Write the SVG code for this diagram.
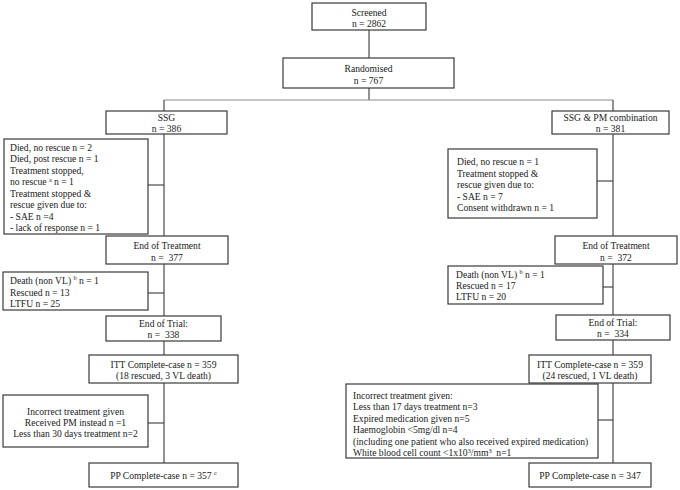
<svg xmlns="http://www.w3.org/2000/svg" width="680" height="490" viewBox="0 0 680 490">
<style>
  .box { fill: #ffffff; stroke: #3a3a3a; stroke-width: 1.2; }
  .ln { fill: none; stroke: #3a3a3a; stroke-width: 1.1; }
  .ln2 { fill: none; stroke: #8a8a8a; stroke-width: 1; }
  text { font-family: "Liberation Serif", "Times New Roman", serif; font-size: 9.6px; fill: #1a1a1a; }
  .c { text-anchor: middle; }
  .sup { font-size: 6.3px; }
</style>
<rect x="0" y="0" width="680" height="490" fill="#ffffff"/>
<g id="connectors">
  <line class="ln" x1="369" y1="30" x2="369" y2="58"/>
  <line class="ln" x1="369" y1="88" x2="369" y2="100"/>
  <line class="ln2" x1="164" y1="100" x2="613" y2="100"/>
  <line class="ln" x1="164" y1="100" x2="164" y2="111"/>
  <line class="ln" x1="613" y1="100" x2="613" y2="111"/>
  <line class="ln" x1="164" y1="134" x2="164" y2="463"/>
  <line class="ln" x1="613" y1="134" x2="613" y2="463"/>
  <line class="ln" x1="148" y1="185" x2="164" y2="185"/>
  <line class="ln" x1="148" y1="293" x2="164" y2="293"/>
  <line class="ln" x1="148" y1="423" x2="164" y2="423"/>
  <line class="ln" x1="597" y1="181" x2="613" y2="181"/>
  <line class="ln" x1="603" y1="287" x2="613" y2="287"/>
  <line class="ln" x1="598" y1="420" x2="613" y2="420"/>
</g>
<g id="screened">
  <rect class="box" x="312" y="3" width="114" height="27"/>
  <text class="c" x="369" y="16">Screened</text>
  <text class="c" x="369" y="27">n = 2862</text>
</g>
<g id="randomised">
  <rect class="box" x="283" y="58" width="171" height="30"/>
  <text class="c" x="368.5" y="72">Randomised</text>
  <text class="c" x="368.5" y="84">n = 767</text>
</g>
<g id="ssg">
  <rect class="box" x="106" y="111" width="121" height="23"/>
  <text class="c" x="166.5" y="120.5">SSG</text>
  <text class="c" x="166.5" y="131.5">n = 386</text>
</g>
<g id="ssgpm">
  <rect class="box" x="552" y="111" width="117" height="23"/>
  <text class="c" x="610.5" y="120.5">SSG &amp; PM combination</text>
  <text class="c" x="610.5" y="131.5">n = 381</text>
</g>
<g id="ssg-excl">
  <rect class="box" x="4" y="139" width="144" height="95"/>
  <text x="10" y="150.5">Died, no rescue n = 2</text>
  <text x="10" y="162">Died, post rescue n = 1</text>
  <text x="10" y="173.5">Treatment stopped,</text>
  <text x="10" y="185">no rescue <tspan class="sup" dy="-3.5">a</tspan><tspan dy="3.5"> n = 1</tspan></text>
  <text x="10" y="196.5">Treatment stopped &amp;</text>
  <text x="10" y="208">rescue given due to:</text>
  <text x="10" y="219.5">- SAE n =4</text>
  <text x="10" y="231">- lack of response n = 1</text>
</g>
<g id="ssg-eot">
  <rect class="box" x="106" y="236" width="122" height="28"/>
  <text class="c" x="167" y="249">End of Treatment</text>
  <text class="c" x="167" y="260.5" xml:space="preserve">n =  377</text>
</g>
<g id="ssg-lost">
  <rect class="box" x="3" y="272" width="145" height="38"/>
  <text x="10" y="283.5">Death (non VL) <tspan class="sup" dy="-3.5">b</tspan><tspan dy="3.5"> n = 1</tspan></text>
  <text x="10" y="295.5">Rescued n = 13</text>
  <text x="10" y="306.5">LTFU n = 25</text>
</g>
<g id="ssg-eotrial">
  <rect class="box" x="106" y="316" width="115" height="25"/>
  <text class="c" x="163.5" y="326.5">End of Trial:</text>
  <text class="c" x="163.5" y="337.5" xml:space="preserve">n =  338</text>
</g>
<g id="ssg-itt">
  <rect class="box" x="89" y="355" width="149" height="28"/>
  <text class="c" x="163.5" y="367.5">ITT Complete-case n = 359</text>
  <text class="c" x="163.5" y="378.5">(18 rescued, 3 VL death)</text>
</g>
<g id="ssg-incorrect">
  <rect class="box" x="3" y="395" width="145" height="52"/>
  <text class="c" x="75.5" y="414.5">Incorrect treatment given</text>
  <text class="c" x="75.5" y="425.5">Received PM instead n =1</text>
  <text class="c" x="75.5" y="436.5">Less than 30 days treatment n=2</text>
</g>
<g id="ssg-pp">
  <rect class="box" x="89" y="463" width="149" height="24"/>
  <text class="c" x="163.5" y="478.5">PP Complete-case n = 357 <tspan class="sup" dy="-3.5">c</tspan></text>
</g>
<g id="pm-excl">
  <rect class="box" x="448" y="149" width="149" height="69"/>
  <text x="457" y="165">Died, no rescue n = 1</text>
  <text x="457" y="176.5">Treatment stopped &amp;</text>
  <text x="457" y="188">rescue given due to:</text>
  <text x="457" y="199.5">- SAE n = 7</text>
  <text x="457" y="211">Consent withdrawn n = 1</text>
</g>
<g id="pm-eot">
  <rect class="box" x="555" y="236" width="122" height="28"/>
  <text class="c" x="616" y="249">End of Treatment</text>
  <text class="c" x="616" y="260.5" xml:space="preserve">n =  372</text>
</g>
<g id="pm-lost">
  <rect class="box" x="448" y="266" width="155" height="38"/>
  <text x="456" y="277.5">Death (non VL) <tspan class="sup" dy="-3.5">b</tspan><tspan dy="3.5"> n = 1</tspan></text>
  <text x="456" y="289">Rescued n = 17</text>
  <text x="456" y="300">LTFU n = 20</text>
</g>
<g id="pm-eotrial">
  <rect class="box" x="556" y="315" width="114" height="25"/>
  <text class="c" x="613" y="325.5">End of Trial:</text>
  <text class="c" x="613" y="337" xml:space="preserve">n =  334</text>
</g>
<g id="pm-itt">
  <rect class="box" x="529" y="355" width="122" height="28"/>
  <text class="c" x="590" y="367.5">ITT Complete-case n = 359</text>
  <text class="c" x="590" y="378.5">(24 rescued, 1 VL death)</text>
</g>
<g id="pm-incorrect">
  <rect class="box" x="346" y="384" width="252" height="74"/>
  <text x="353" y="398.5">Incorrect treatment given:</text>
  <text x="353" y="410">Less than 17 days treatment n=3</text>
  <text x="353" y="421.5">Expired medication given n=5</text>
  <text x="353" y="433">Haemoglobin &lt;5mg/dl n=4</text>
  <text x="353" y="444.5">(including one patient who also received expired medication)</text>
  <text x="353" y="456" xml:space="preserve">White blood cell count &lt;1x10<tspan class="sup" dy="-3.5">3</tspan><tspan dy="3.5">/mm</tspan><tspan class="sup" dy="-3.5">3</tspan><tspan dy="3.5">  n=1</tspan></text>
</g>
<g id="pm-pp">
  <rect class="box" x="529" y="463" width="122" height="24"/>
  <text class="c" x="590" y="478.5">PP Complete-case n = 347</text>
</g>
</svg>
